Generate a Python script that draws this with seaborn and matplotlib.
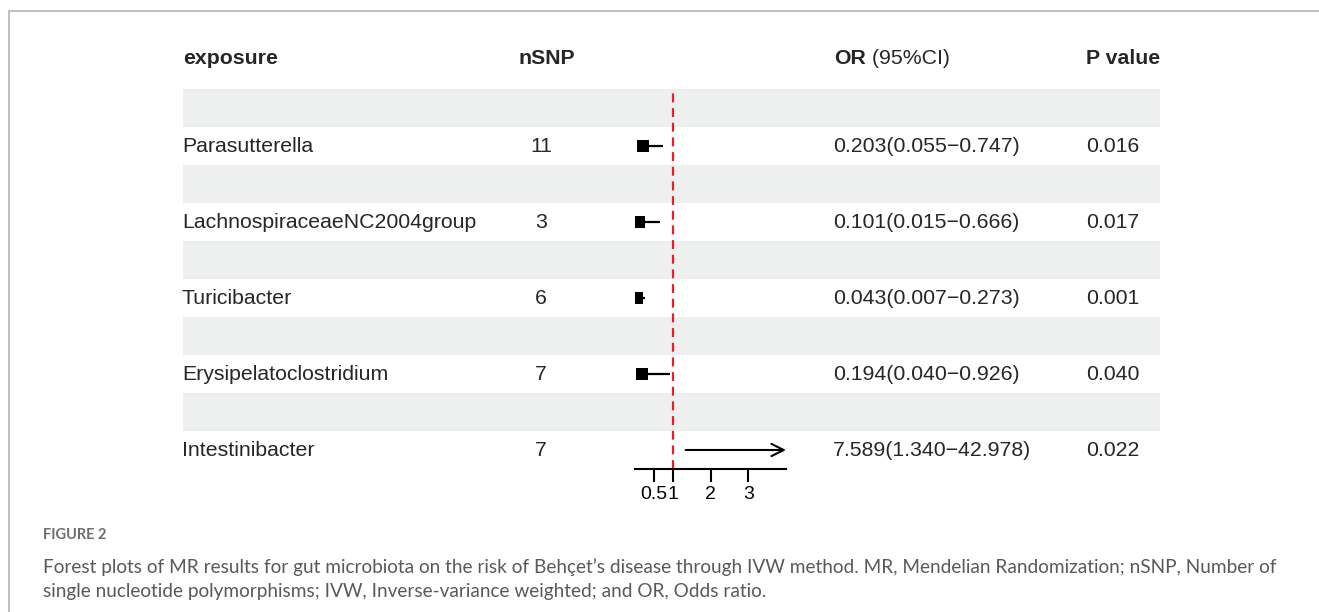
import matplotlib
matplotlib.use("Agg")
import matplotlib.pyplot as plt
import matplotlib.transforms as mtransforms
from matplotlib.lines import Line2D
import pandas as pd
import seaborn as sns

# Data
exposure = ["Parasutterella", "LachnospiraceaeNC2004group", "Turicibacter",
            "Erysipelatoclostridium", "Intestinibacter"]
nsnp = [11, 3, 6, 7, 7]
or_val = [0.203, 0.101, 0.043, 0.194, 7.589]
ci_low = [0.055, 0.015, 0.007, 0.040, 1.340]
ci_high = [0.747, 0.666, 0.273, 0.926, 42.978]
p_value = ["0.016", "0.017", "0.001", "0.040", "0.022"]
x_ticks = [0.5, 1, 2, 3]
x_range = (0, 4)

df = pd.DataFrame({"exposure": exposure, "nsnp": nsnp, "or": or_val,
                   "lo": ci_low, "hi": ci_high, "p": p_value})
# each data row sits under a blank shaded row
df["row"] = [2 * i + 2 for i in range(len(df))]

sns.set_theme(style="white")
plt.rcParams["font.family"] = ["Liberation Sans", "DejaVu Sans"]

W, H = 1319, 612
fig = plt.figure(figsize=(W / 100, H / 100), dpi=100)

top_px, bot_px = 89, 469
ax_bottom = 1 - bot_px / H
ax_height = (bot_px - top_px) / H
ylim = (10.5, 0.5)

# table axes spanning full width
ax = fig.add_axes([0, ax_bottom, 1, ax_height])
ax.set_xlim(0, 1)
ax.set_ylim(*ylim)
ax.axis("off")
tr = mtransforms.blended_transform_factory(ax.transAxes, ax.transData)

for r in df["row"]:
    ax.axhspan(r - 1.5, r - 0.5, xmin=183 / W, xmax=1160 / W,
               color="#edf0ef", lw=0, zorder=0)

fs = 15.3
hdr_y = -0.3
ax.text(183 / W, hdr_y, "exposure", transform=tr, fontsize=fs, fontweight="bold",
        ha="left", va="center", clip_on=False)
ax.text(547 / W, hdr_y, "nSNP", transform=tr, fontsize=fs, fontweight="bold",
        ha="center", va="center", clip_on=False)
t = ax.text(834 / W, hdr_y, "OR", transform=tr, fontsize=fs, fontweight="bold",
            ha="left", va="center", clip_on=False)
ax.annotate(" (95%CI)", xycoords=t, xy=(1, 0), va="bottom", ha="left",
            fontsize=fs, annotation_clip=False)
ax.text(1086 / W, hdr_y, "P value", transform=tr, fontsize=fs, fontweight="bold",
        ha="left", va="center", clip_on=False)

for _, d in df.iterrows():
    y = d["row"]
    ax.text(182 / W, y, d["exposure"], transform=tr, fontsize=fs, ha="left", va="center")
    ax.text(541 / W, y, str(d["nsnp"]), transform=tr, fontsize=fs, ha="center", va="center")
    ax.text(833 / W, y, f"{d['or']:.3f}({d['lo']:.3f}\u2212{d['hi']:.3f})", transform=tr,
            fontsize=fs, ha="left", va="center")
    ax.text(1086 / W, y, d["p"], transform=tr, fontsize=fs, ha="left", va="center")

# forest axes
fax = fig.add_axes([635 / W, ax_bottom, (786 - 635) / W, ax_height])
fax.patch.set_alpha(0)
fax.set_xlim(*x_range)
fax.set_ylim(*ylim)

fax.axvline(1, color="#ee1c25", ls=(0, (4, 2.6)), lw=1.6, zorder=1)
for _, d in df.iterrows():
    if d["hi"] > x_range[1]:
        fax.annotate("", xy=(x_range[1], d["row"]), xytext=(d["lo"], d["row"]),
                     arrowprops=dict(arrowstyle="->", color="black", lw=1.5,
                                     mutation_scale=22, shrinkA=0, shrinkB=0))
    else:
        fax.hlines(d["row"], d["lo"], d["hi"], color="black", lw=1.6, zorder=2)

sns.scatterplot(data=df, x="or", y="row", marker="s", color="black", s=75,
                edgecolor="black", linewidth=0, ax=fax, legend=False, zorder=3)

sns.despine(ax=fax, left=True)
fax.spines["bottom"].set_linewidth(1.5)
fax.spines["bottom"].set_color("black")
fax.set_xticks(x_ticks)
fax.set_xticklabels([f"{v:g}" for v in x_ticks], fontsize=14)
fax.tick_params(axis="x", direction="out", length=9, width=1.5, pad=3.5,
                bottom=True, colors="black")
fax.set_yticks([])
fax.set_xlabel("")
fax.set_ylabel("")

# page frame and caption
fig.add_artist(Line2D([9 / W, 1], [1 - 11 / H, 1 - 11 / H], color="#b4b4b4", lw=1.2))
fig.add_artist(Line2D([9 / W, 9 / W], [0, 1 - 11 / H], color="#b4b4b4", lw=1.2))

cap = ["Lato", "DejaVu Sans"]
fig.text(43 / W, 1 - 535 / H, "FIGURE 2", family=cap, fontsize=10.5, color="#6d6e70",
         fontweight="bold", va="center", ha="left")
fig.text(43 / W, 1 - 567 / H,
         "Forest plots of MR results for gut microbiota on the risk of Beh\u00e7et\u2019s disease "
         "through IVW method. MR, Mendelian Randomization; nSNP, Number of",
         family=cap, fontsize=13.7, color="#58595b", va="center", ha="left")
fig.text(43 / W, 1 - 591 / H,
         "single nucleotide polymorphisms; IVW, Inverse-variance weighted; and OR, Odds ratio.",
         family=cap, fontsize=13.7, color="#58595b", va="center", ha="left")

fig.savefig("out.png", dpi=100)
